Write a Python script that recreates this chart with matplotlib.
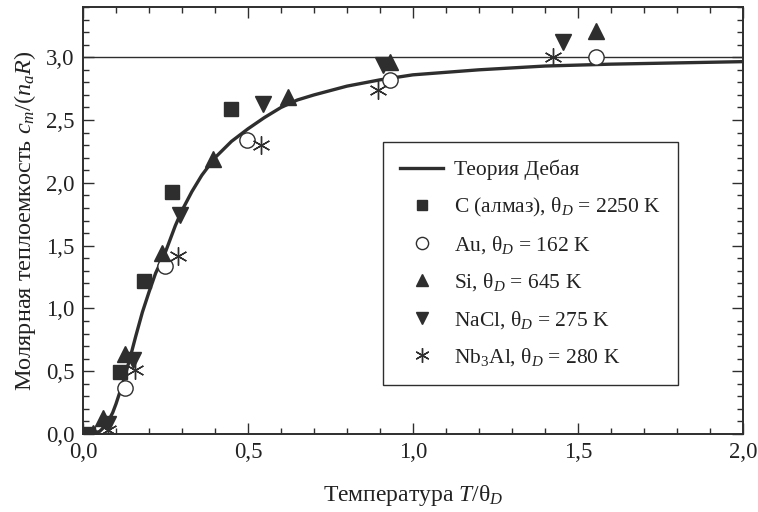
import matplotlib
matplotlib.use("Agg")
import matplotlib.pyplot as plt
from matplotlib.ticker import MultipleLocator, FixedLocator, FixedFormatter

plt.rcParams['font.family'] = ['Liberation Serif', 'DejaVu Serif']
plt.rcParams['mathtext.fontset'] = 'custom'
plt.rcParams['mathtext.rm'] = 'Liberation Serif'
plt.rcParams['mathtext.it'] = 'Liberation Serif:italic'
plt.rcParams['mathtext.bf'] = 'Liberation Serif:bold'

# Debye theory curve (reduced temperature T/theta_D, c_m/(n_a R))
debye_t = [0.00, 0.03, 0.05, 0.07, 0.09, 0.10, 0.12, 0.14, 0.16, 0.18, 0.20,
           0.22, 0.25, 0.28, 0.30, 0.33, 0.36, 0.40, 0.45, 0.50, 0.55, 0.60,
           0.65, 0.70, 0.80, 0.90, 1.00, 1.20, 1.40, 1.60, 1.80, 2.00]
debye_c = [0.00, 0.005, 0.02, 0.07, 0.17, 0.24, 0.40, 0.58, 0.78, 0.97, 1.13,
           1.28, 1.45, 1.66, 1.78, 1.93, 2.06, 2.20, 2.33, 2.43, 2.52, 2.60,
           2.66, 2.70, 2.77, 2.82, 2.86, 2.90, 2.93, 2.945, 2.955, 2.965]

# Measured heat capacities
c_t = [0.015, 0.113, 0.185, 0.270, 0.448]
c_c = [0.00, 0.49, 1.22, 1.93, 2.59]

au_t = [0.127, 0.248, 0.496, 0.930, 1.556]
au_c = [0.37, 1.34, 2.34, 2.82, 3.00]

si_t = [0.030, 0.062, 0.127, 0.238, 0.395, 0.622, 0.930, 1.556]
si_c = [0.01, 0.13, 0.64, 1.44, 2.19, 2.68, 2.96, 3.21]

nacl_t = [0.075, 0.152, 0.294, 0.546, 0.910, 1.455]
nacl_c = [0.08, 0.59, 1.74, 2.63, 2.94, 3.12]

nb_t = [0.075, 0.158, 0.288, 0.541, 0.895, 1.425]
nb_c = [0.03, 0.51, 1.42, 2.30, 2.74, 3.00]

dulong_petit = 3.0

xticks = [0.0, 0.5, 1.0, 1.5, 2.0]
xtick_labels = ['0,0', '0,5', '1,0', '1,5', '2,0']
yticks = [0.0, 0.5, 1.0, 1.5, 2.0, 2.5, 3.0]
ytick_labels = ['0,0', '0,5', '1,0', '1,5', '2,0', '2,5', '3,0']

ink = '#2e2e2e'
text_ink = '#222222'

fig = plt.figure(figsize=(7.58, 5.12), dpi=100)
ax = fig.add_axes([0.1095, 0.1523, 0.8705, 0.834])

ax.axhline(dulong_petit, color=ink, lw=1.0, zorder=1)

ax.plot(debye_t, debye_c, color=ink, lw=2.4, zorder=2,
        label='Теория Дебая', solid_joinstyle='round')
ax.plot(c_t, c_c, ls='none', marker='s', ms=9.5, color=ink,
        label='C (алмаз), θ$_D$ = 2250 K', zorder=3)
ax.plot(au_t, au_c, ls='none', marker='o', ms=11, mfc='white', mec=ink,
        mew=1.0, label='Au, θ$_D$ = 162 K', zorder=3)
ax.plot(si_t, si_c, ls='none', marker='^', ms=11, color=ink,
        label='Si, θ$_D$ = 645 K', zorder=3)
ax.plot(nacl_t, nacl_c, ls='none', marker='v', ms=11, color=ink,
        label='NaCl, θ$_D$ = 275 K', zorder=3)
ax.plot(nb_t, nb_c, ls='none', marker=(6, 2, 0), ms=13, color=ink, mew=1.0,
        label='Nb$_3$Al, θ$_D$ = 280 K', zorder=3)

ax.set_xlim(0, 2.0)
ax.set_ylim(0, 3.4)

ax.xaxis.set_major_locator(FixedLocator(xticks))
ax.xaxis.set_major_formatter(FixedFormatter(xtick_labels))
ax.yaxis.set_major_locator(FixedLocator(yticks))
ax.yaxis.set_major_formatter(FixedFormatter(ytick_labels))
ax.xaxis.set_minor_locator(MultipleLocator(0.1))
ax.yaxis.set_minor_locator(MultipleLocator(0.1))
ax.tick_params(which='both', direction='in', top=True, right=True,
               color=ink, width=1.0, labelsize=16.5, labelcolor=text_ink)
ax.tick_params(which='major', length=8, pad=6)
ax.tick_params(which='minor', length=4)
for s in ax.spines.values():
    s.set_color(ink)
    s.set_linewidth(1.4)

ax.set_xlabel('Температура $T$/θ$_D$', fontsize=17, color=text_ink,
              labelpad=14)
ax.set_ylabel('Молярная теплоемкость $c_m$/($n_a R$)', fontsize=17.5,
              color=text_ink, labelpad=6)

leg = ax.legend(loc='upper left', bbox_to_anchor=(0.4545, 0.683),
                borderaxespad=0, fontsize=15.5, frameon=True, fancybox=False,
                edgecolor=ink, framealpha=1.0, handlelength=2.0,
                handletextpad=0.5, labelspacing=0.72, borderpad=0.8,
                markerscale=0.8)
leg.get_frame().set_linewidth(1.0)
for t in leg.get_texts():
    t.set_color(text_ink)

fig.savefig('out.png', dpi=100)
